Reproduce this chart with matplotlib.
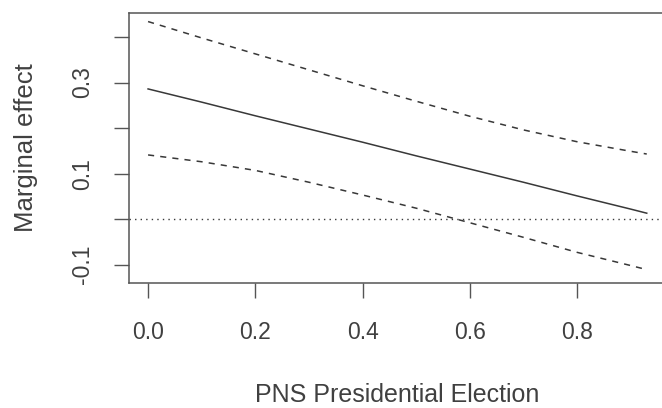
import matplotlib
matplotlib.use("Agg")
import matplotlib.pyplot as plt
import numpy as np

plt.rcParams['font.family'] = ['Liberation Sans', 'DejaVu Sans']

# values
pns = [0.0, 0.1, 0.2, 0.3, 0.4, 0.5, 0.6, 0.7, 0.8, 0.9, 0.93]
effect = [0.286, 0.257, 0.227, 0.198, 0.169, 0.139, 0.110, 0.081, 0.051, 0.022, 0.013]
upper = [0.434, 0.398, 0.363, 0.328, 0.293, 0.259, 0.226, 0.196, 0.170, 0.149, 0.143]
lower = [0.141, 0.126, 0.107, 0.081, 0.053, 0.024, -0.008, -0.040, -0.073, -0.102, -0.111]

x_ticks = [0.0, 0.2, 0.4, 0.6, 0.8]
x_labels = ['0.0', '0.2', '0.4', '0.6', '0.8']
y_ticks = [-0.1, 0.0, 0.1, 0.2, 0.3, 0.4]
y_labels = ['-0.1', '', '0.1', '', '0.3', '']

line_col = '#383838'
text_col = '#404040'
box_col = '#555555'

fig = plt.figure(figsize=(6.62, 4.08), dpi=100)
ax = fig.add_axes([0.195, 0.306, 0.81, 0.662])

ax.plot(pns, effect, color=line_col, lw=1.1)
ax.plot(pns, upper, color=line_col, lw=1.1, linestyle=(0, (4, 4)))
ax.plot(pns, lower, color=line_col, lw=1.1, linestyle=(0, (4, 4)))
ax.axhline(0, color=line_col, lw=1.0, linestyle=(0, (1, 3)))

ax.set_xlim(-0.0354, 0.9646)
ax.set_ylim(-0.1407, 0.4527)

ax.set_xticks(x_ticks)
ax.set_xticklabels(x_labels)
ax.set_yticks(y_ticks)
ax.set_yticklabels(y_labels, rotation=90, va='center')

ax.tick_params(direction='out', length=11, width=1.0, color=box_col,
               labelcolor=text_col, labelsize=16.5)
ax.tick_params(axis='x', pad=16)
ax.tick_params(axis='y', pad=14)
for s in ax.spines.values():
    s.set_color(box_col)
    s.set_linewidth(1.1)

ax.set_xlabel('PNS Presidential Election', fontsize=18, color=text_col, labelpad=28)
ax.set_ylabel('Marginal effect', fontsize=18.5, color=text_col, labelpad=24)

fig.savefig('out.png', dpi=100)
